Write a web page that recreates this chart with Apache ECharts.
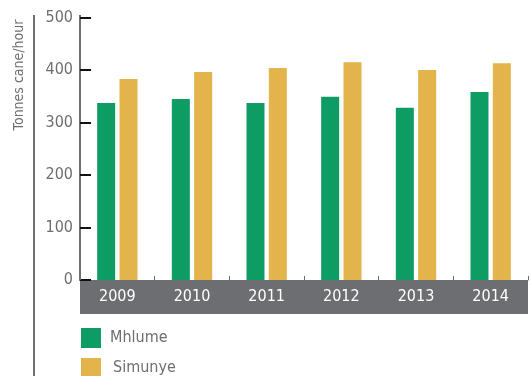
<!DOCTYPE html>
<html>
<head>
<meta charset="utf-8">
<script src="https://cdn.jsdelivr.net/npm/echarts@6/dist/echarts.min.js"></script>
<style>
  html, body { margin: 0; padding: 0; background: #fff; }
  #chart { width: 530px; height: 376px; }
</style>
</head>
<body>
<div id="chart"></div>
<script>
// Crushing rate by mill and season
const years = ['2009', '2010', '2011', '2012', '2013', '2014'];
const mhlume = [337, 345, 337, 349, 328, 358];
const simunye = [383, 396, 404, 415, 400, 413];
const yTicks = [0, 100, 200, 300, 400, 500];

const FONT = '"DejaVu Sans Condensed", "Liberation Sans Narrow", sans-serif';
const GREY = '#6d6e71';

const chart = echarts.init(document.getElementById('chart'), null, { renderer: 'canvas' });

function legendFor(name, top, pad) {
  return {
    orient: 'vertical',
    left: 81,
    top: top,
    padding: 0,
    itemWidth: 20,
    itemHeight: 20,
    icon: 'rect',
    textStyle: { color: GREY, fontFamily: FONT, fontSize: 16, padding: [0, 0, 0, pad] },
    data: [name]
  };
}

chart.setOption({
  animation: false,
  grid: { left: 80, right: 2, top: 17.5, bottom: 96 },
  xAxis: [
    {
      type: 'category',
      data: years,
      position: 'bottom',
      boundaryGap: true,
      axisLine: { show: true, lineStyle: { color: GREY, width: 1 } },
      axisTick: { show: true, inside: true, length: 4, lineStyle: { color: GREY } },
      axisLabel: { show: false }
    },
    {
      type: 'category',
      data: years,
      position: 'bottom',
      offset: 17,
      boundaryGap: true,
      axisLine: { show: true, lineStyle: { color: GREY, width: 34, cap: 'butt' } },
      axisTick: { show: false },
      axisLabel: {
        show: true,
        color: '#ffffff',
        fontFamily: FONT,
        fontSize: 16,
        margin: 0,
        verticalAlign: 'middle'
      }
    }
  ],
  yAxis: {
    type: 'value',
    min: yTicks[0],
    max: yTicks[yTicks.length - 1],
    interval: 100,
    axisLine: { show: true, lineStyle: { color: GREY, width: 2 } },
    axisTick: { show: true, inside: true, length: 11, lineStyle: { color: '#111', width: 2 } },
    splitLine: { show: false },
    axisLabel: { color: GREY, fontFamily: FONT, fontSize: 16, margin: 7 }
  },
  legend: [
    legendFor('Mhlume', 328, 4),
    legendFor('Simunye', 358, 7)
  ],
  graphic: [
    {
      type: 'text',
      x: 19,
      y: 75,
      rotation: Math.PI / 2,
      style: {
        text: 'Tonnes cane/hour',
        fill: GREY,
        font: '14px ' + FONT,
        align: 'center',
        verticalAlign: 'middle'
      }
    },
    {
      type: 'line',
      shape: { x1: 34, y1: 15, x2: 34, y2: 376 },
      style: { stroke: GREY, lineWidth: 2 }
    },
    {
      type: 'line',
      shape: { x1: 80, y1: 15, x2: 80, y2: 20 },
      style: { stroke: GREY, lineWidth: 2 }
    }
  ],
  series: [
    {
      name: 'Mhlume',
      type: 'bar',
      data: mhlume,
      barWidth: 18,
      barGap: '24%',
      itemStyle: { color: '#0e9c65' }
    },
    {
      name: 'Simunye',
      type: 'bar',
      data: simunye,
      barWidth: 18,
      barGap: '24%',
      itemStyle: { color: '#e3b44b' }
    }
  ]
});
</script>
</body>
</html>
